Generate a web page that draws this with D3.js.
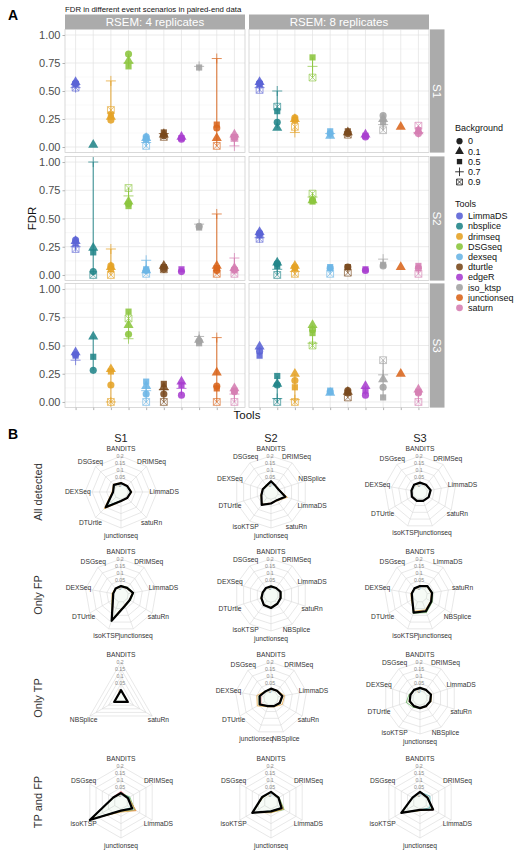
<!DOCTYPE html>
<html><head><meta charset="utf-8">
<script src="https://cdn.jsdelivr.net/npm/d3@7"></script>
<style>body{margin:0;background:#fff} svg{display:block;font-family:"Liberation Sans",Arial,sans-serif}</style>
</head><body><svg id="c" width="520" height="855"></svg>
<script>
// ---------------- Panel A data ----------------
const tools = ["LimmaDS","nbsplice","drimseq","DSGseq","dexseq","dturtle","edgeR","iso_ktsp","junctionseq","saturn"];
const toolColors = ["#5b63d6","#23868a","#e5a326","#8cc63e","#6cb6e6","#7a4a1e","#a93fd0","#a3a3a3","#da661d","#d67fb3"];
const backgrounds = ["0","0.1","0.5","0.7","0.9"];
const scenarios = ["S1","S2","S3"];
const replicateLabels = ["RSEM: 4 replicates","RSEM: 8 replicates"];
const yTicks = [0,0.25,0.5,0.75,1];
const yMinor = [0.125,0.375,0.625,0.875];
// values per tool: [bg 0, bg 0.1, bg 0.5, bg 0.7, bg 0.9]
const fdr_S1_rep4 = [[0.57,0.58,0.56,0.53,0.53],[null,0.02,null,null,null],[0.24,0.27,0.29,0.59,0.33],[0.83,0.77,0.72,0.75,null],[0.09,0.08,0.07,0.04,0.01],[0.10,0.11,0.13,0.12,0.09],[0.07,0.09,0.08,null,null],[null,null,0.71,0.72,null],[0.17,0.08,0.20,0.79,0.01],[0.08,0.11,0.09,0.01,0.08]];
const fdr_S1_rep8 = [[0.57,0.58,0.56,0.53,0.51],[0.22,0.17,0.32,0.50,0.36],[0.26,0.25,0.24,0.13,0.18],[null,null,0.80,0.72,0.62],[0.12,0.10,0.14,0.12,null],[0.12,0.13,0.14,null,0.11],[0.09,0.11,0.10,null,null],[0.28,0.25,0.22,0.20,0.15],[null,0.18,null,null,null],[0.12,0.14,0.15,0.13,0.19]];
const fdr_S2_rep4 = [[0.31,0.30,0.28,0.25,0.23],[0.03,0.24,0.20,1.00,0.00],[0.08,0.07,0.05,0.23,0.00],[0.63,0.65,0.61,0.70,0.77],[0.04,0.04,0.05,0.13,0.01],[0.05,0.08,0.07,null,0.05],[0.03,null,0.05,null,null],[0.43,null,0.42,0.45,null],[0.04,0.08,0.06,0.54,0.01],[0.05,0.06,0.04,0.15,0.01]];
const fdr_S2_rep8 = [[0.37,0.38,0.35,0.33,0.32],[0.10,0.11,0.08,0.05,0.00],[0.07,0.08,0.06,0.03,0.01],[0.66,0.66,0.65,0.69,0.72],[0.06,null,0.07,null,0.01],[0.07,null,0.07,null,0.02],[0.04,null,0.05,null,null],[0.08,null,0.09,0.14,null],[null,0.07,null,null,null],[0.06,null,0.08,null,0.01]];
const fdr_S3_rep4 = [[0.42,0.44,0.41,0.37,null],[0.28,0.58,0.40,null,null],[0.15,0.29,0.27,0.00,0.00],[0.60,0.68,0.80,0.56,0.74],[0.07,0.14,0.18,0.10,0.00],[0.07,0.13,0.16,0.11,0.00],[0.06,0.18,0.15,0.12,null],[0.54,0.55,0.52,0.58,null],[0.14,0.26,0.12,0.57,0.00],[0.09,0.12,0.10,0.07,0.00]];
const fdr_S3_rep8 = [[0.45,0.49,0.41,null,null],[0.15,0.16,0.23,0.03,0.00],[0.19,0.25,0.13,0.02,0.00],[0.64,0.68,0.61,0.52,0.50],[0.09,0.08,0.10,null,null],[0.10,0.09,0.08,null,0.04],[0.06,0.14,0.10,null,null],[0.13,0.20,0.04,0.24,0.37],[null,0.25,null,null,null],[0.08,0.11,0.09,null,0.00]];

// ---------------- Panel B data ----------------
const radarRows = ["All detected","Only FP","Only TP","TP and FP"];
const radarCols = ["S1","S2","S3"];
const radarTicks = [0,0.05,0.1,0.15,0.2];
const radarColors = ["#e5707c","#55a84a","#e6a33a","#3ea6a8","#000000"];
const radarFillOpacity = [0,0.05,0,0,0];
// axes listed clockwise from top; values: [red, green, orange, teal, black]
const ad_S1_axes = ["BANDITS","DRIMSeq","LimmaDS","satuRn","junctionseq","DTUrtle","DEXSeq","DSGseq"];
const ad_S1_vals = [[0.01,0.008,0.018,0.008,0.01,0.09,0.005,0.015],[0.012,0.01,0.02,0.012,0.012,0.095,0.006,0.018],[0.015,0.012,0.025,0.012,0.015,0.115,0.012,0.025],[0.01,0.008,0.016,0.01,0.01,0.085,0.004,0.016],[0.012,0.01,0.02,0.01,0.012,0.10,0.005,0.02]];
const ad_S2_axes = ["BANDITS","DRIMSeq","NBSplice","LimmaDS","satuRn","junctionseq","isoKTSP","DTUrtle","DEXSeq","DSGseq"];
const ad_S2_vals = [[0.02,0.005,0.008,0.05,0.018,0.025,0.055,0.02,0.01,0.008],[0.025,0.004,0.006,0.055,0.02,0.03,0.06,0.022,0.01,0.01],[0.02,0.006,0.01,0.07,0.025,0.03,0.055,0.025,0.012,0.01],[0.022,0.004,0.006,0.05,0.02,0.028,0.058,0.02,0.01,0.008],[0.025,0.003,0.005,0.055,0.02,0.03,0.06,0.02,0.01,0.004]];
const ad_S3_axes = ["BANDITS","DRIMSeq","LimmaDS","satuRn","junctionseq","isoKTSP","DTUrtle","DEXSeq","DSGseq"];
const ad_S3_vals = [[0.014,0.014,0.022,0.018,0.014,0.014,0.014,0.01,0.014],[0.016,0.016,0.025,0.02,0.016,0.016,0.016,0.012,0.015],[0.015,0.015,0.024,0.02,0.015,0.015,0.018,0.01,0.015],[0.014,0.015,0.022,0.018,0.015,0.014,0.014,0.01,0.014],[0.015,0.015,0.025,0.02,0.015,0.015,0.015,0.01,0.015]];
const fp_S1_axes = ["BANDITS","DRIMSeq","LimmaDS","satuRn","junctionseq","isoKTSP","DTUrtle","DEXSeq","DSGseq"];
const fp_S1_vals = [[0.01,0.012,0.03,0.018,0.025,0.13,0.012,0.006,0.008],[0.015,0.02,0.04,0.025,0.035,0.145,0.02,0.01,0.01],[0.01,0.012,0.03,0.018,0.025,0.13,0.022,0.014,0.01],[0.012,0.014,0.032,0.02,0.028,0.135,0.014,0.006,0.008],[0.012,0.015,0.035,0.02,0.03,0.14,0.015,0.005,0.008]];
const fp_S2_axes = ["BANDITS","DRIMSeq","LimmaDS","satuRn","NBSplice","junctionseq","isoKTSP","DTUrtle","DEXSeq","DSGseq"];
const fp_S2_vals = [[0.01,0.01,0.018,0.018,0.022,0.036,0.032,0.018,0.01,0.01],[0.012,0.012,0.022,0.022,0.026,0.042,0.036,0.022,0.012,0.01],[0.01,0.01,0.02,0.02,0.024,0.038,0.034,0.024,0.012,0.01],[0.01,0.01,0.018,0.02,0.024,0.038,0.034,0.02,0.01,0.01],[0.01,0.01,0.02,0.02,0.025,0.04,0.035,0.02,0.01,0.01]];
const fp_S3_axes = ["BANDITS","LimmaDS","satuRn","NBSplice","junctionseq","isoKTSP","DTUrtle","DEXSeq","DSGseq"];
const fp_S3_vals = [[0.012,0.028,0.032,0.036,0.065,0.075,0.012,0.008,0.01],[0.014,0.032,0.04,0.048,0.08,0.085,0.016,0.01,0.012],[0.01,0.026,0.03,0.035,0.06,0.07,0.02,0.014,0.01],[0.012,0.03,0.033,0.038,0.068,0.078,0.012,0.008,0.01],[0.012,0.03,0.035,0.04,0.07,0.08,0.012,0.008,0.01]];
const tp_S1_axes = ["BANDITS","satuRn","NBSplice"];
const tp_S1_vals = [[0.004,0.004,0.004],[0.005,0.005,0.005],[0.004,0.005,0.004],[0.005,0.004,0.005],[0.005,0.005,0.005]];
const tp_S2_axes = ["BANDITS","DRIMSeq","LimmaDS","satuRn","NBSplice","junctionseq","DTUrtle","DEXSeq","DSGseq"];
const tp_S2_vals = [[0.012,0.012,0.025,0.015,0.008,0.01,0.03,0.02,0.01],[0.015,0.015,0.03,0.025,0.012,0.012,0.045,0.035,0.012],[0.015,0.018,0.045,0.04,0.015,0.015,0.06,0.05,0.012],[0.014,0.014,0.028,0.02,0.01,0.01,0.04,0.03,0.01],[0.015,0.015,0.03,0.02,0.01,0.01,0.04,0.03,0.01]];
const tp_S3_axes = ["BANDITS","DRIMSeq","LimmaDS","satuRn","NBSplice","junctionseq","isoKTSP","DTUrtle","DEXSeq","DSGseq"];
const tp_S3_vals = [[0.018,0.018,0.028,0.022,0.018,0.018,0.018,0.022,0.018,0.018],[0.02,0.022,0.032,0.028,0.022,0.022,0.03,0.05,0.03,0.02],[0.02,0.02,0.035,0.03,0.025,0.022,0.022,0.03,0.022,0.02],[0.018,0.02,0.03,0.025,0.02,0.02,0.02,0.025,0.02,0.018],[0.02,0.02,0.03,0.025,0.02,0.02,0.02,0.025,0.02,0.02]];
const tf_axes = ["BANDITS","DRIMSeq","LimmaDS","junctionseq","isoKTSP","DSGseq"];
const tf_S1_vals = [[0.025,0.01,0.07,0.01,0.19,0.015],[0.012,0.02,0.06,0.015,0.19,0.01],[0.01,0.01,0.07,0.02,0.18,0.01],[0.01,0.015,0.03,0.008,0.19,0.01],[0.012,0.005,0.04,0.01,0.2,0.012]];
const tf_S2_vals = [[0.02,0.01,0.04,0.015,0.1,0.02],[0.02,0.015,0.055,0.02,0.1,0.015],[0.018,0.01,0.05,0.025,0.095,0.015],[0.02,0.012,0.03,0.012,0.1,0.018],[0.02,0.01,0.035,0.015,0.1,0.02]];
const tf_S3_vals = [[0.025,0.01,0.06,0.005,0.1,0.01],[0.02,0.012,0.05,0.008,0.1,0.01],[0.02,0.01,0.05,0.01,0.095,0.01],[0.02,0.03,0.03,0.005,0.1,0.012],[0.02,0.01,0.055,0.005,0.1,0.01]];

// ---------------- drawing ----------------
const svg = d3.select("#c");
const FONT = "'Liberation Sans',Arial,sans-serif";

svg.append("text").attr("x",8).attr("y",20).attr("font-size",14).attr("font-weight","bold").text("A");
svg.append("text").attr("x",65).attr("y",11.5).attr("font-size",7.8).attr("fill","#111").text("FDR in different event scenarios in paired-end data");

const panelX = [[65,245],[249,429]];
const panelY = [[29.4,152.6],[156.4,280.6],[283.4,407.6]];
const fdrData = [[fdr_S1_rep4,fdr_S1_rep8],[fdr_S2_rep4,fdr_S2_rep8],[fdr_S3_rep4,fdr_S3_rep8]];
const stripFill = "#ababab";

function plusPath(s){return `M${-s},0H${s}M0,${-s}V${s}`;}
function xboxPath(s){return `M${-s},${-s}H${s}V${s}H${-s}ZM${-s},${-s}L${s},${s}M${s},${-s}L${-s},${s}`;}
function drawShape(g, k, x, y, color, scale){
  scale = scale || 1;
  if(k===0) g.append("path").attr("d",d3.symbol(d3.symbolCircle,40*scale)()).attr("transform",`translate(${x},${y})`).attr("fill",color);
  else if(k===1) g.append("path").attr("d",d3.symbol(d3.symbolTriangle,44*scale)()).attr("transform",`translate(${x},${y})`).attr("fill",color);
  else if(k===2) g.append("path").attr("d",d3.symbol(d3.symbolSquare,38*scale)()).attr("transform",`translate(${x},${y})`).attr("fill",color);
  else if(k===3) g.append("path").attr("d",plusPath(5*Math.sqrt(scale))).attr("transform",`translate(${x},${y})`).attr("fill","none").attr("stroke",color).attr("stroke-width",0.9);
  else g.append("path").attr("d",xboxPath(3.4*Math.sqrt(scale))).attr("transform",`translate(${x},${y})`).attr("fill","none").attr("stroke",color).attr("stroke-width",0.8);
}

replicateLabels.forEach((lab,c)=>{
  svg.append("rect").attr("x",panelX[c][0]).attr("y",14.5).attr("width",panelX[c][1]-panelX[c][0]).attr("height",14.9).attr("fill",stripFill);
  svg.append("text").attr("x",(panelX[c][0]+panelX[c][1])/2).attr("y",22).attr("dy","0.36em").attr("text-anchor","middle").attr("fill","#fff").attr("font-size",11.5).text(lab);
});

for(let r=0;r<3;r++){
  const [yt,yb] = panelY[r];
  svg.append("rect").attr("x",430).attr("y",yt).attr("width",14.5).attr("height",yb-yt).attr("fill",stripFill);
  svg.append("text").attr("transform",`translate(437.2,${(yt+yb)/2}) rotate(90)`).attr("text-anchor","middle").attr("dy","0.36em").attr("fill","#fff").attr("font-size",11.5).text(scenarios[r]);
  for(let c=0;c<2;c++){
    const x = d3.scalePoint().domain(tools).range(panelX[c]).padding(0.6);
    const y = d3.scaleLinear().domain([-0.05,1.05]).range([yb,yt]);
    const g = svg.append("g");
    g.append("rect").attr("x",panelX[c][0]).attr("y",yt).attr("width",panelX[c][1]-panelX[c][0]).attr("height",yb-yt).attr("fill","#fff");
    yMinor.forEach(v=>g.append("line").attr("x1",panelX[c][0]).attr("x2",panelX[c][1]).attr("y1",y(v)).attr("y2",y(v)).attr("stroke","#f0f0f0").attr("stroke-width",0.5));
    yTicks.forEach(v=>g.append("line").attr("x1",panelX[c][0]).attr("x2",panelX[c][1]).attr("y1",y(v)).attr("y2",y(v)).attr("stroke","#e3e3e3").attr("stroke-width",0.7));
    tools.forEach(t=>g.append("line").attr("x1",x(t)).attr("x2",x(t)).attr("y1",yt).attr("y2",yb).attr("stroke","#e3e3e3").attr("stroke-width",0.7));
    const data = fdrData[r][c];
    tools.forEach((t,i)=>{
      const vals = data[i].filter(v=>v!==null);
      if(vals.length>1){
        g.append("line").attr("x1",x(t)).attr("x2",x(t)).attr("y1",y(d3.min(vals))).attr("y2",y(d3.max(vals))).attr("stroke",toolColors[i]).attr("stroke-width",1.1).attr("opacity",0.85);
      }
    });
    backgrounds.forEach((b,k)=>{
      tools.forEach((t,i)=>{
        const v = data[i][k];
        if(v===null) return;
        const pg = g.append("g").attr("opacity", k>=3?0.8:0.88);
        drawShape(pg,k,x(t),y(v),toolColors[i]);
      });
    });
    g.append("rect").attr("x",panelX[c][0]).attr("y",yt).attr("width",panelX[c][1]-panelX[c][0]).attr("height",yb-yt).attr("fill","none").attr("stroke","#c9c9c9").attr("stroke-width",0.7);
    if(c===0){
      const ax = svg.append("g").attr("transform",`translate(${panelX[0][0]},0)`).call(d3.axisLeft(y).tickValues(yTicks).tickFormat(d3.format(".2f")).tickSize(2.5).tickPadding(2));
      ax.select(".domain").remove();
      ax.selectAll("line").attr("stroke","#b3b3b3");
      ax.selectAll("text").attr("font-size",11).attr("fill","#4d4d4d").attr("font-family",FONT);
    }
    if(r===2){
      const ax = svg.append("g").attr("transform",`translate(0,${yb})`).call(d3.axisBottom(x).tickFormat("").tickSize(2.5));
      ax.select(".domain").remove();
      ax.selectAll("line").attr("stroke","#b3b3b3");
    }
  }
}
svg.append("text").attr("x",247).attr("y",419).attr("text-anchor","middle").attr("font-size",11.5).attr("fill","#111").text("Tools");
svg.append("text").attr("transform","translate(36,218.5) rotate(-90)").attr("text-anchor","middle").attr("font-size",11.5).attr("fill","#111").text("FDR");

const lg = svg.append("g");
lg.append("text").attr("x",455).attr("y",131).attr("font-size",9).attr("fill","#111").text("Background");
backgrounds.forEach((b,k)=>{
  const yy = 141.2 + k*10.2;
  drawShape(lg,k,459.5,yy,"#222",0.75);
  lg.append("text").attr("x",468).attr("y",yy).attr("dy","0.35em").attr("font-size",9).attr("fill","#111").text(b);
});
lg.append("text").attr("x",455).attr("y",207).attr("font-size",9).attr("fill","#111").text("Tools");
tools.forEach((t,i)=>{
  const yy = 216 + i*10.2;
  lg.append("circle").attr("cx",459.5).attr("cy",yy).attr("r",3.4).attr("fill",toolColors[i]).attr("opacity",0.9);
  lg.append("text").attr("x",468).attr("y",yy).attr("dy","0.35em").attr("font-size",9).attr("fill","#111").text(t);
});

// ---------------- Panel B ----------------
svg.append("text").attr("x",8).attr("y",439).attr("font-size",14).attr("font-weight","bold").text("B");
const colX = [121,271,420];
const rowY = [492,595,698,802];
radarCols.forEach((s,i)=>svg.append("text").attr("x",colX[i]).attr("y",442).attr("text-anchor","middle").attr("font-size",11).attr("fill","#222").text(s));
radarRows.forEach((s,i)=>svg.append("text").attr("transform",`translate(42,${rowY[i]}) rotate(-90)`).attr("text-anchor","middle").attr("font-size",11).attr("fill","#333").text(s));

function radar(cx, cy, axes, vals){
  const n = axes.length, R = 36;
  const rs = d3.scaleLinear().domain([0,0.2]).range([R/5,R]);
  const ang = i => i*2*Math.PI/n;
  const g = svg.append("g").attr("transform",`translate(${cx},${cy})`);
  const line = d3.lineRadial().angle((d,i)=>ang(i)).radius(d=>rs(d)).curve(d3.curveLinearClosed);
  radarTicks.forEach(t=>{
    g.append("path").attr("d",line(axes.map(()=>t))).attr("fill","none").attr("stroke","#d9d9d9").attr("stroke-width",0.6);
  });
  axes.forEach((a,i)=>{
    const th = ang(i);
    g.append("line").attr("x1",rs(0)*Math.sin(th)).attr("y1",-rs(0)*Math.cos(th)).attr("x2",R*Math.sin(th)).attr("y2",-R*Math.cos(th)).attr("stroke","#d9d9d9").attr("stroke-width",0.6);
  });
  radarTicks.forEach(t=>{
    g.append("text").attr("x",-1).attr("y",-rs(t)).attr("dy","0.35em").attr("text-anchor","middle").attr("font-size",5.2).attr("fill","#8a8a8a").text(String(t));
  });
  vals.forEach((v,k)=>{
    const black = k===vals.length-1;
    g.append("path").attr("d",line(v))
      .attr("fill", radarFillOpacity[k]>0?radarColors[k]:"none").attr("fill-opacity",radarFillOpacity[k])
      .attr("stroke",radarColors[k]).attr("stroke-width",black?2.2:0.9).attr("stroke-linejoin","round").attr("stroke-opacity",black?1:0.8);
  });
  axes.forEach((a,i)=>{
    const th = ang(i), rr = R*1.2;
    g.append("text").attr("x",rr*Math.sin(th)).attr("y",-rr*Math.cos(th)).attr("dy","0.35em").attr("text-anchor","middle").attr("font-size",6.7).attr("fill","#333").text(a);
  });
}
radar(colX[0],rowY[0],ad_S1_axes,ad_S1_vals);
radar(colX[1],rowY[0],ad_S2_axes,ad_S2_vals);
radar(colX[2],rowY[0],ad_S3_axes,ad_S3_vals);
radar(colX[0],rowY[1],fp_S1_axes,fp_S1_vals);
radar(colX[1],rowY[1],fp_S2_axes,fp_S2_vals);
radar(colX[2],rowY[1],fp_S3_axes,fp_S3_vals);
radar(colX[0],rowY[2],tp_S1_axes,tp_S1_vals);
radar(colX[1],rowY[2],tp_S2_axes,tp_S2_vals);
radar(colX[2],rowY[2],tp_S3_axes,tp_S3_vals);
radar(colX[0],rowY[3],tf_axes,tf_S1_vals);
radar(colX[1],rowY[3],tf_axes,tf_S2_vals);
radar(colX[2],rowY[3],tf_axes,tf_S3_vals);
</script></body></html>
